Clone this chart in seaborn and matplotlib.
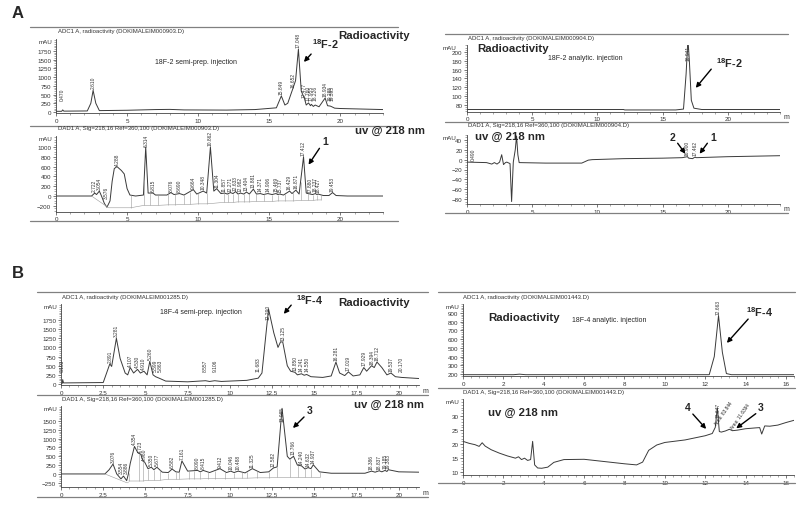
import numpy as np
import matplotlib
matplotlib.use('Agg')
import matplotlib.pyplot as plt
from matplotlib.lines import Line2D
from matplotlib.ticker import MultipleLocator, FuncFormatter
import seaborn as sns

W, H = 800, 510
TRACE = '#3a3a3a'
RULE = '#808080'
BIG = 8.2     # bold panel captions
TAG = 7.8     # 18F-x compound tags

# ---- data ----
# A left, 18F-2 semi-prep, radioactivity
a_rad_t = [0, 0.4, 0.47, 0.55, 2.2, 2.45, 2.61, 2.8, 3.05, 5, 7, 8, 9, 12, 14, 15.5, 15.85, 16.1,
           16.3, 16.65, 16.85, 17.05, 17.25, 17.48, 17.6, 17.76, 17.9, 17.96, 18.1, 18.23, 18.5,
           18.93, 19.1, 19.29, 19.4, 19.6, 20, 22, 23]
a_rad_v = [20, 20, 60, 25, 30, 250, 620, 250, 40, 50, 70, 75, 60, 55, 70, 120, 460, 200,
           250, 660, 900, 1800, 600, 380, 200, 260, 180, 220, 160, 200, 150,
           400, 180, 170, 150, 110, 100, 80, 70]
a_rad_pk = [0.470, 2.610, 15.849, 16.652, 17.048, 17.477, 17.760, 17.955, 18.226, 18.934, 19.285, 19.395]

# A left, UV 218 nm
a_uv_t = [0, 2.5, 2.65, 2.72, 2.85, 3.05, 3.2, 3.4, 3.58, 3.8, 3.95, 4.1, 4.29, 4.6, 4.8, 5.0, 5.2,
          5.6, 6.15, 6.31, 6.48, 6.82, 7.0, 7.8, 8.08, 8.3, 8.69, 9.0, 9.66, 9.9, 10.35, 10.6,
          10.86, 11.1, 11.3, 11.6, 11.86, 12.05, 12.27, 12.45, 12.63, 12.8, 12.98, 13.2, 13.4,
          13.6, 13.88, 14.1, 14.37, 14.6, 14.9, 15.2, 15.47, 15.6, 15.74, 16.0, 16.43, 16.6,
          16.87, 17.1, 17.41, 17.6, 17.88, 18.05, 18.24, 18.35, 18.43, 18.8, 19.2, 19.45, 19.7,
          20.5, 23]
a_uv_v = [0, 0, 40, 60, 30, 100, 0, -150, -230, -100, 300, 560, 600, 520, 450, 150, 20,
          0, 20, 1000, 60, 60, 20, 20, 70, 30, 50, 20, 130, 40, 100, 60,
          1000, 100, 150, 50, 60, 40, 70, 50, 90, 40, 60, 40, 80,
          40, 140, 40, 50, 30, 50, 30, 50, 30, 40, 20, 100, 50,
          120, 40, 800, 60, 40, 30, 50, 30, 40, 10, 10, 70, 10,
          0, 0]
a_uv_pk = [2.722, 3.054, 3.576, 4.288, 6.314, 6.815, 8.076, 8.690, 9.664, 10.348, 10.862, 11.304,
           11.857, 12.271, 12.633, 12.982, 13.404, 13.881, 14.371, 14.906, 15.469, 15.737,
           16.429, 16.871, 17.412, 17.880, 18.237, 18.427, 19.453]
a_uv_base_t = [2.5, 3.7, 5.25]
a_uv_base_v = [0, -240, -240]
a_uv_drop_t = [5.25, 6.2, 6.6, 7.2, 7.9, 8.4, 9.0, 9.4, 10.0, 10.6, 11.8, 12.1, 12.45, 12.8, 13.2,
               13.6, 14.1, 14.65, 15.2, 15.6, 16.1, 16.7, 17.2, 17.7, 18.05, 18.35, 18.65]
a_uv_drop_v = [-240, -190, -190, -190, -180, -180, -170, -170, -160, -160, -130, -130, -130, -120, -120,
               -120, -110, -110, -110, -100, -100, -100, -90, -90, -90, -80, -80]

# A right, 18F-2 analytic, radioactivity
a2_rad_t = [0, 5, 10, 12, 12.1, 16, 16.6, 16.8, 16.94, 17.05, 17.2, 17.4, 18, 24]
a2_rad_v = [69, 69, 69, 69, 68, 68, 70, 150, 230, 180, 90, 72, 69, 69]
a2_rad_pk = [16.941]

# A right, UV 218 nm
a2_uv_t = [0, 1.5, 1.9, 2.1, 2.3, 2.5, 2.66, 2.8, 2.95, 3.05, 3.3, 3.42, 3.55, 3.7, 3.8, 3.9, 4.0,
           6, 8.8, 9.3, 9.6, 12, 15, 16.5, 16.9, 17.0, 17.3, 17.46, 17.6, 20, 24]
a2_uv_v = [-5, -6, -9, -6, -9, -5, 10, -10, -6, -5, -8, -85, -5, 20, 48, 10, -6,
           -7, -7, -1, 0, 2, 3, 4, 6, 3, 2, 5, 4, 6, 8]
a2_uv_pk = [0.490, 16.900, 17.462]

# B left, 18F-4 semi-prep, radioactivity
b_rad_t = [0, 0.08, 0.1, 0.15, 2.5, 2.7, 2.89, 3.0, 3.28, 3.5, 3.8, 3.95, 4.1, 4.3, 4.53, 4.7, 4.91,
           5.1, 5.26, 5.45, 5.6, 5.86, 6.2, 7.5, 8.56, 8.8, 9.1, 9.5, 11.0, 11.68, 11.9, 12.1,
           12.29, 12.6, 12.85, 13.0, 13.13, 13.4, 13.6, 13.85, 14.0, 14.24, 14.4, 14.55, 14.8,
           15.5, 16.0, 16.28, 16.5, 16.8, 17.02, 17.3, 17.7, 17.93, 18.1, 18.39, 18.55, 18.71,
           19.0, 19.3, 19.54, 19.8, 20.17, 21.2]
b_rad_v = [20, 20, 120, 30, 40, 300, 550, 480, 1250, 700, 300, 250, 450, 300, 400, 300, 350,
           250, 620, 250, 200, 150, 80, 60, 90, 70, 90, 70, 100, 160, 300, 1200,
           2050, 1400, 1000, 1150, 1150, 500, 350, 320, 250, 280, 240, 260, 200,
           180, 220, 600, 300, 230, 330, 220, 250, 450, 350, 500, 450, 600,
           450, 250, 300, 200, 180, 150]
b_rad_pk = [0.103, 2.891, 3.281, 4.107, 4.530, 4.910, 5.260, 5.599, 5.863, 8.557, 9.106, 11.683,
            12.290, 13.125, 13.850, 14.241, 14.550, 16.281, 17.019, 17.929, 18.394, 18.712,
            19.537, 20.170]

# B left, UV 218 nm
b_uv_t = [0, 2.6, 2.85, 3.08, 3.3, 3.55, 3.7, 3.89, 3.98, 4.1, 4.35, 4.55, 4.72, 4.85, 4.96, 5.15,
          5.35, 5.5, 5.68, 6.0, 6.35, 6.58, 6.8, 7.0, 7.16, 7.5, 8.09, 8.25, 8.42, 8.8, 9.41, 9.8,
          10.05, 10.25, 10.49, 10.9, 11.33, 11.8, 12.3, 12.58, 12.8, 13.09, 13.4, 13.55, 13.77,
          14.0, 14.24, 14.45, 14.63, 14.8, 14.94, 15.3, 16.0, 18.0, 18.39, 18.6, 18.84, 19.0,
          19.19, 19.3, 19.38, 20.0, 21.2]
b_uv_v = [0, 0, 120, 280, 0, -140, -60, -190, -20, 300, 780, 600, 560, 380, 330, 150,
          190, 120, 190, 50, 40, 140, 60, 50, 370, 80, 100, 60, 100, 40, 150, 40,
          80, 40, 80, 30, 150, 40, 60, 170, 200, 1860, 500, 420, 500,
          250, 230, 140, 180, 150, 260, 60, 20, 20, 80, 50, 90, 60,
          100, 70, 120, 60, 50]
b_uv_pk = [3.076, 3.554, 3.886, 4.354, 4.723, 4.960, 5.350, 5.677, 6.582, 7.161, 8.090, 8.415,
           9.412, 10.046, 10.488, 11.325, 12.582, 13.085, 13.766, 14.240, 14.632, 14.937,
           18.386, 18.837, 19.185, 19.383]
b_uv_base_t = [2.6, 3.9, 4.0]
b_uv_base_v = [0, -250, -250]
b_uv_drop_t = [4.0, 4.6, 4.85, 5.15, 5.5, 5.85, 6.35, 6.8, 7.0, 7.6, 7.9, 8.25, 8.7, 9.1, 9.7,
               10.25, 10.7, 11.0, 11.6, 12.3, 12.8, 13.55, 14.05, 14.45, 14.8, 15.35]
b_uv_drop_v = [-200, -200, -200, -180, -180, -180, -150, -150, -150, -140, -140, -140, -130, -130,
               -130, -120, -120, -120, -110, -110, -100, -100, -100, -100, -100, -100]

# B right, 18F-4 analytic, radioactivity
b2_rad_t = [0, 2.5, 2.8, 3.1, 12.2, 12.45, 12.66, 12.85, 13.05, 13.3, 16.4]
b2_rad_v = [192, 192, 198, 192, 192, 400, 870, 450, 205, 192, 192]
b2_rad_pk = [12.663]

# B right, UV 218 nm
b2_uv_t = [0, 0.3, 0.6, 0.8, 0.95, 1.1, 1.4, 1.8, 2.2, 2.6, 2.75, 2.9, 3.05, 3.2, 3.35, 3.45, 3.55,
           3.7, 3.9, 4.2, 4.5, 5.0, 6.0, 7.0, 8.0, 8.6, 8.9, 9.2, 9.6, 10.0, 11.0, 12.0, 12.35,
           12.5, 12.6, 12.7, 12.8, 13.0, 13.2, 13.35, 13.6, 14.0, 14.5, 14.7, 14.8, 14.95, 15.2,
           15.6, 16.0, 16.4]
b2_uv_v = [21, 20.3, 19.8, 19.2, 20.5, 19.3, 18, 16.8, 15.8, 15.0, 15.5, 14.5, 15, 14.2, 14.5, 21, 12.6,
           11.5, 11.4, 11.8, 13.5, 14.5, 14.6, 13.8, 13.0, 12.6, 13.6, 17.8, 19.7, 20.6, 21.5, 23.0, 23.8,
           26, 33, 24.5, 24.3, 24.7, 25.3, 24.8, 25.0, 25.5, 25.8, 25.9, 23.6, 26.5, 26.4,
           26.8, 27.7, 28.5]
b2_uv_pk = [12.647]

sns.set_style('ticks')
plt.rcParams['font.family'] = ['Liberation Sans', 'DejaVu Sans']
plt.rcParams['mathtext.fontset'] = 'custom'
plt.rcParams['mathtext.rm'] = 'Liberation Sans'
plt.rcParams['mathtext.bf'] = 'Liberation Sans:bold'

fig = plt.figure(figsize=(8, 5.1), dpi=100)


def fx(x):
    return x / W


def fy(y):
    return 1 - y / H


def ftext(x, y, s, **kw):
    kw.setdefault('va', 'center')
    fig.text(fx(x), fy(y), s, **kw)


def rule(x0, x1, y):
    fig.add_artist(Line2D([fx(x0), fx(x1)], [fy(y), fy(y)], color=RULE, lw=0.9))


def arrow(x0, y0, x1, y1):
    fig.add_artist(matplotlib.patches.FancyArrowPatch(
        (fx(x0), fy(y0)), (fx(x1), fy(y1)), transform=fig.transFigure,
        arrowstyle='-|>', mutation_scale=7, lw=1.0, color='black'))


def panel(rect, t, v, xlim, ylim, xmaj, xmin, yticks, ymin, peaks, unit=False, mau_dx=-0.01):
    l, top, r, b = rect
    ax = fig.add_axes([fx(l), fy(b), (r - l) / W, (b - top) / H])
    ax.patch.set_alpha(0)
    sns.lineplot(x=t, y=v, ax=ax, color=TRACE, linewidth=0.7,
                 estimator=None, sort=False, legend=False)
    ax.set_xlim(*xlim)
    ax.set_ylim(*ylim)
    ax.xaxis.set_major_locator(MultipleLocator(xmaj))
    ax.xaxis.set_minor_locator(MultipleLocator(xmin))
    ax.xaxis.set_major_formatter(FuncFormatter(lambda x, p: '%g' % x))
    ax.set_yticks(yticks)
    ax.yaxis.set_minor_locator(MultipleLocator(ymin))
    ax.set_xlabel('')
    ax.set_ylabel('')
    sns.despine(ax=ax)
    for s in ('left', 'bottom'):
        ax.spines[s].set_linewidth(0.6)
        ax.spines[s].set_color('#444444')
    ax.tick_params(which='major', labelsize=4.5, length=2.2, width=0.5, pad=1.2,
                   color='#444444', labelcolor='#333333')
    ax.tick_params(which='minor', length=1.2, width=0.4, color='#666666')
    ax.text(mau_dx, 1.0, 'mAU', transform=ax.transAxes, ha='right', va='top',
            fontsize=4.5, color='#333333')
    if unit:
        ax.text(1.01, -0.02, 'm', transform=ax.transAxes, ha='left', va='top',
                fontsize=5, color='#333333')
    # retention-time labels of the integrated peaks
    span = ylim[1] - ylim[0]
    for rt in peaks:
        yv = float(np.interp(rt, t, v))
        if yv > ylim[1] - 0.12 * span:
            ax.text(rt, ylim[1], '%.3f' % rt, rotation=90, ha='center', va='top',
                    fontsize=3.5, color='#333333')
        else:
            ax.annotate('%.3f' % rt, xy=(rt, max(yv, ylim[0] + 0.15 * span)),
                        xytext=(0, 1.5), textcoords='offset points', rotation=90,
                        ha='center', va='bottom', fontsize=3.5, color='#333333',
                        annotation_clip=False)
    return ax


def integration(ax, bt, bv, dt, dv, t, v):
    ax.plot(bt, bv, color='#9a9a9a', lw=0.4)
    ax.plot(dt, dv, color='#9a9a9a', lw=0.4)
    tops = np.interp(dt, t, v)
    ax.vlines(dt, dv, tops, color='#9a9a9a', lw=0.4)


# ---- A ----
ftext(12, 14, 'A', fontsize=12, fontweight='bold', ha='left')
rule(30, 398, 28)
rule(30, 398, 127)
rule(30, 398, 222)
ftext(58, 32, 'ADC1 A, radioactivity (DOKIMALEIM000903.D)', fontsize=4.3, ha='left', color='#333333')
panel((56, 40, 383, 114.4), a_rad_t, a_rad_v, (0, 23), (-40, 2092), 5, 1,
      [0, 250, 500, 750, 1000, 1250, 1500, 1750], 50, a_rad_pk)
ftext(338, 36, 'Radioactivity', fontsize=BIG, fontweight='bold', ha='left')
ftext(155, 62, '18F-2 semi-prep. injection', fontsize=5, ha='left')
ftext(312, 44, r'$^{\mathbf{18}}$F-2', fontsize=TAG, fontweight='bold', ha='left')
arrow(313, 53, 302, 65)

ftext(58, 128.5, 'DAD1 A, Sig=218,16 Ref=360,100 (DOKIMALEIM000903.D)', fontsize=4.3, ha='left',
      color='#333333')
ax = panel((56, 137, 383, 212.7), a_uv_t, a_uv_v, (0, 23), (-320, 1224), 5, 1,
           [-200, 0, 200, 400, 600, 800, 1000], 50, a_uv_pk)
integration(ax, a_uv_base_t, a_uv_base_v, a_uv_drop_t, a_uv_drop_v, a_uv_t, a_uv_v)
ftext(355, 131, 'uv @ 218 nm', fontsize=BIG, fontweight='bold', ha='left')
ftext(325, 142, '1', fontsize=7.5, fontweight='bold', ha='center')
arrow(321, 147, 307, 168)

rule(445, 788, 35)
rule(445, 788, 123)
rule(445, 788, 214)
ftext(468, 39, 'ADC1 A, radioactivity (DOKIMALEIM000904.D)', fontsize=4.3, ha='left', color='#333333')
panel((467, 46, 780, 112.7), a2_rad_t, a2_rad_v, (0, 24), (64, 216), 5, 1,
      [80, 100, 120, 140, 160, 180, 200], 5, a2_rad_pk, unit=True, mau_dx=-0.035)
ftext(477, 49, 'Radioactivity', fontsize=BIG, fontweight='bold', ha='left')
ftext(548, 59, '18F-2 analytic. injection', fontsize=5, ha='left')
ftext(716, 63, r'$^{\mathbf{18}}$F-2', fontsize=TAG, fontweight='bold', ha='left')
arrow(713, 68, 694, 91)

ftext(468, 125.5, 'DAD1 A, Sig=218,16 Ref=360,100 (DOKIMALEIM000904.D)', fontsize=4.3, ha='left',
      color='#333333')
panel((467, 136, 780, 205), a2_uv_t, a2_uv_v, (0, 24), (-90, 50), 5, 1,
      [-80, -60, -40, -20, 0, 20, 40], 5, a2_uv_pk, unit=True, mau_dx=-0.035)
ftext(475, 137, 'uv @ 218 nm', fontsize=BIG, fontweight='bold', ha='left')
ftext(672, 138, '2', fontsize=7.5, fontweight='bold', ha='center')
arrow(676, 142, 687, 157)
ftext(713, 138, '1', fontsize=7.5, fontweight='bold', ha='center')
arrow(709, 142, 698, 157)

# ---- B ----
ftext(12, 273, 'B', fontsize=12, fontweight='bold', ha='left')
rule(37, 428, 293)
rule(37, 428, 396)
rule(37, 428, 498)
ftext(62, 297.5, 'ADC1 A, radioactivity (DOKIMALEIM001285.D)', fontsize=4.3, ha='left', color='#333333')
panel((61, 305, 419, 386), b_rad_t, b_rad_v, (0, 21.2), (-27, 2186), 2.5, 0.5,
      [0, 250, 500, 750, 1000, 1250, 1500, 1750], 50, b_rad_pk, unit=True)
ftext(296, 300, r'$^{\mathbf{18}}$F-4', fontsize=TAG, fontweight='bold', ha='left')
arrow(293, 304, 282, 317)
ftext(338, 303, 'Radioactivity', fontsize=BIG, fontweight='bold', ha='left')
ftext(160, 312, '18F-4 semi-prep. injection', fontsize=5, ha='left')

ftext(62, 399.5, 'DAD1 A, Sig=218,16 Ref=360,100 (DOKIMALEIM001285.D)', fontsize=4.3, ha='left',
      color='#333333')
ax = panel((61, 407, 419, 488), b_uv_t, b_uv_v, (0, 21.2), (-370, 1926), 2.5, 0.5,
           [-250, 0, 250, 500, 750, 1000, 1250, 1500], 50, b_uv_pk, unit=True)
integration(ax, b_uv_base_t, b_uv_base_v, b_uv_drop_t, b_uv_drop_v, b_uv_t, b_uv_v)
ftext(310, 411, '3', fontsize=7.5, fontweight='bold', ha='center')
arrow(306, 416, 291, 431)
ftext(354, 405, 'uv @ 218 nm', fontsize=BIG, fontweight='bold', ha='left')

rule(438, 795, 293)
rule(438, 795, 389)
rule(438, 795, 484)
ftext(463, 297.5, 'ADC1 A, radioactivity (DOKIMALEIM001443.D)', fontsize=4.3, ha='left', color='#333333')
panel((463, 305, 794, 377), b2_rad_t, b2_rad_v, (0, 16.4), (177, 1003), 2, 0.4,
      [200, 300, 400, 500, 600, 700, 800, 900], 20, b2_rad_pk)
ftext(488, 318, 'Radioactivity', fontsize=BIG, fontweight='bold', ha='left')
ftext(572, 320, '18F-4 analytic. injection', fontsize=5, ha='left')
ftext(746, 312, r'$^{\mathbf{18}}$F-4', fontsize=TAG, fontweight='bold', ha='left')
arrow(750, 318, 725, 346)

ftext(463, 392.5, 'DAD1 A, Sig=218,16 Ref=360,100 (DOKIMALEIM001443.D)', fontsize=4.3, ha='left',
      color='#333333')
panel((463, 400, 794, 476), b2_uv_t, b2_uv_v, (0, 16.4), (9, 36.1), 2, 0.4,
      [10, 15, 20, 25, 30], 1, b2_uv_pk)
ftext(488, 413, 'uv @ 218 nm', fontsize=BIG, fontweight='bold', ha='left')
ftext(688, 408, '4', fontsize=7.5, fontweight='bold', ha='center')
arrow(691, 413, 708, 432)
ftext(761, 408, '3', fontsize=7.5, fontweight='bold', ha='center')
arrow(758, 413, 734, 431)
ftext(724, 414, 'Area: 83.844', fontsize=3.4, rotation=55, ha='center')
ftext(740, 417, 'Area: 11.6394', fontsize=3.4, rotation=55, ha='center')

fig.savefig('out.png', dpi=100)
